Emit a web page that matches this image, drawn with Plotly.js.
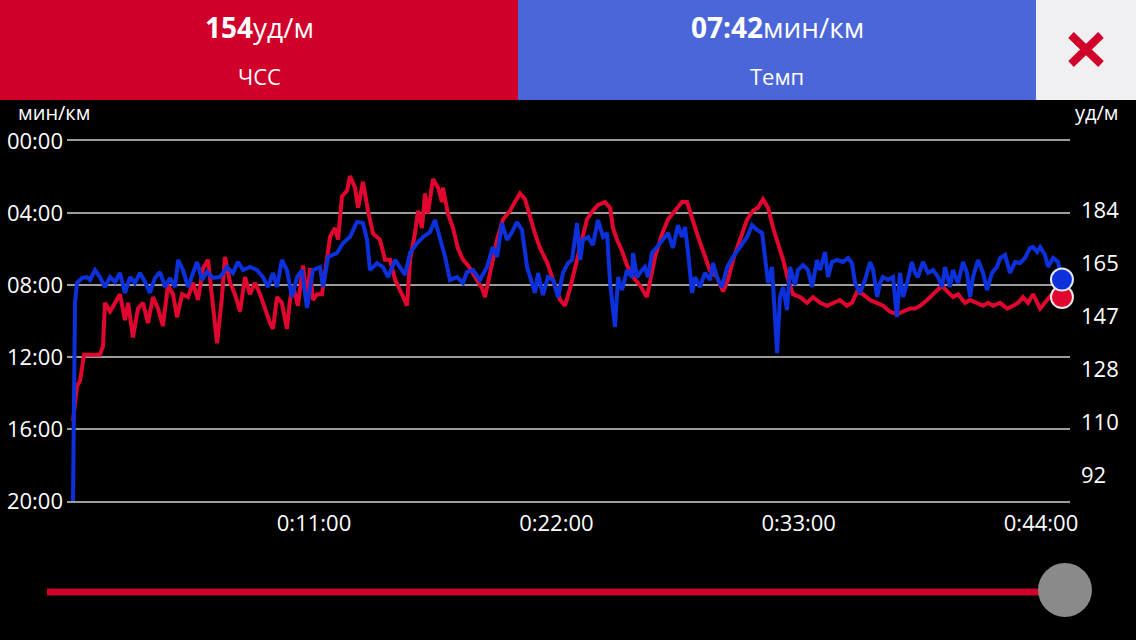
<!DOCTYPE html>
<html>
<head>
<meta charset="utf-8">
<script src="https://cdn.plot.ly/plotly-3.0.1.min.js"></script>
<style>html,body{margin:0;padding:0;background:#000;overflow:hidden}</style>
</head>
<body>
<div id="chart" style="width:1136px;height:640px"></div>
<script>
// ---- data (time in minutes) ----
const paceTime = [0.06,0.15,0.24,0.47,0.69,0.83,1.06,1.28,1.51,1.74,
1.97,2.19,2.42,2.65,2.87,3.10,3.33,3.55,3.78,4.01,
4.24,4.46,4.69,4.83,5.05,5.28,5.51,5.69,5.92,6.14,
6.41,6.73,7.05,7.32,7.55,7.78,8.09,8.41,8.68,8.91,
9.14,9.32,9.54,9.77,10.00,10.23,10.45,10.68,10.95,11.27,
11.41,11.64,12.04,12.32,12.63,12.95,13.22,13.41,13.54,13.86,
14.13,14.36,14.68,14.90,15.13,15.36,15.68,15.95,16.26,16.49,
16.72,16.95,17.17,17.49,17.76,17.94,18.22,18.53,18.85,19.12,
19.31,19.53,19.76,19.99,20.21,20.44,20.67,20.80,21.03,21.17,
21.39,21.62,21.85,22.08,22.30,22.53,22.71,22.94,23.08,23.21,
23.44,23.66,23.89,24.12,24.30,24.44,24.66,24.80,24.98,25.21,
25.43,25.48,25.66,25.89,26.02,26.16,26.34,26.57,26.84,27.07,
27.29,27.52,27.70,27.84,27.98,28.16,28.29,28.52,28.75,28.98,
29.11,29.29,29.52,29.75,30.02,30.34,30.66,30.88,31.11,31.34,
31.47,31.61,31.79,31.84,32.02,32.15,32.29,32.47,32.61,32.83,
32.97,33.20,33.42,33.61,33.83,33.97,34.20,34.33,34.51,34.74,
35.01,35.24,35.42,35.56,35.78,36.01,36.24,36.38,36.56,36.69,
36.83,37.06,37.28,37.46,37.60,37.74,37.92,38.14,38.28,38.41,
38.64,38.87,39.10,39.32,39.51,39.64,39.87,40.00,40.23,40.46,
40.64,40.78,40.91,41.14,41.37,41.55,41.77,42.00,42.14,42.37,
42.59,42.82,43.05,43.27,43.50,43.64,43.82,43.96,44.18,44.32,
44.55,44.77,44.95];
// pace, minutes per km
const pace = [20.00,9.00,7.89,7.61,7.56,7.72,7.17,7.56,8.11,7.56,
7.83,7.33,8.44,7.56,7.89,7.33,7.83,8.44,7.61,7.28,
8.11,7.61,8.11,6.61,7.17,8.11,7.33,6.72,7.72,7.28,
7.61,7.56,7.00,7.33,6.72,7.17,7.00,7.17,7.56,8.11,
7.33,8.11,6.61,7.17,8.67,7.56,7.17,9.28,7.17,7.00,
8.11,6.44,6.22,5.67,5.33,4.50,4.56,5.50,7.17,6.78,
7.00,7.56,6.61,7.00,7.44,6.22,5.67,5.33,5.06,4.39,
5.33,6.44,7.72,7.56,7.89,7.28,7.17,7.72,7.00,5.89,
6.44,4.56,5.50,5.06,4.50,4.94,7.00,7.56,8.44,7.33,
8.56,7.56,7.72,8.67,7.33,6.78,6.61,4.56,6.61,5.50,
5.33,5.78,4.39,5.33,5.11,7.89,10.33,7.56,8.28,7.17,
7.56,6.22,7.56,7.17,7.00,7.56,6.22,5.89,5.50,5.11,
5.94,4.67,5.33,4.78,6.22,8.44,7.56,8.11,7.33,7.72,
6.78,7.56,8.11,7.00,6.44,5.89,5.33,4.67,4.94,5.11,
6.44,7.89,7.00,7.89,11.78,8.67,8.11,9.39,7.00,8.00,
7.17,6.89,7.17,8.11,6.61,7.17,6.17,7.56,6.72,6.61,
6.72,6.50,6.78,7.89,8.44,7.72,6.72,7.17,8.67,7.89,
7.56,7.72,7.56,9.78,7.33,8.67,7.89,6.72,7.33,7.56,
6.72,7.33,7.17,7.56,8.11,7.00,8.11,7.17,7.89,6.72,
7.33,8.67,7.56,6.61,7.33,8.28,7.33,7.00,6.50,6.33,
7.33,6.72,6.78,6.50,5.94,5.89,6.17,5.89,6.33,7.00,
6.50,6.72,7.70];

const hrTime = [0.06,0.15,0.24,0.38,0.47,0.56,0.83,1.28,1.42,1.51,
1.74,1.97,2.19,2.42,2.56,2.78,3.01,3.24,3.46,3.69,
3.92,4.14,4.37,4.60,4.78,5.01,5.28,5.51,5.73,5.96,
6.19,6.37,6.60,6.82,6.96,7.19,7.41,7.64,7.87,8.09,
8.32,8.55,8.77,9.00,9.14,9.32,9.54,9.77,9.91,10.05,
10.27,10.50,10.68,10.82,10.95,11.14,11.36,11.50,11.73,11.95,
12.09,12.27,12.50,12.63,12.86,13.00,13.22,13.45,13.68,13.99,
14.22,14.45,14.68,14.99,15.22,15.36,15.58,15.72,15.90,16.04,
16.17,16.40,16.63,16.81,16.85,17.08,17.31,17.53,17.76,17.99,
18.31,18.63,18.76,18.99,19.31,19.58,19.90,20.12,20.35,20.58,
20.80,21.03,21.26,21.58,21.85,22.17,22.39,22.62,22.94,23.21,
23.39,23.66,23.89,24.21,24.44,24.57,24.75,24.98,25.21,25.48,
25.80,26.11,26.25,26.48,26.80,27.07,27.39,27.70,27.93,28.16,
28.43,28.75,28.98,29.29,29.57,29.79,30.02,30.34,30.66,30.93,
31.15,31.38,31.61,31.84,32.06,32.29,32.52,32.74,33.06,33.38,
33.65,33.97,34.29,34.56,34.87,35.19,35.42,35.65,35.92,36.24,
36.56,36.83,37.14,37.46,37.74,38.06,38.28,38.51,38.83,39.10,
39.32,39.51,39.74,40.00,40.23,40.55,40.78,41.10,41.37,41.60,
41.82,42.14,42.46,42.73,42.96,43.18,43.41,43.64,43.96,44.27,
44.50,44.73,44.95];
// heart rate, beats per minute
const heartRate = [111,118,123,125,130,134,134,134,137,152,
149,152,155,146,152,140,150,152,145,154,
150,144,158,155,147,155,154,159,153,164,
167,154,138,154,168,159,155,149,161,155,
159,155,150,145,143,154,152,143,153,158,
151,165,153,164,153,155,155,162,175,178,
174,189,191,196,192,185,194,184,176,174,
167,167,160,155,151,167,176,184,178,190,
183,195,192,187,192,183,178,171,167,165,
161,157,154,162,174,181,184,187,190,188,
182,176,171,166,160,153,151,157,167,175,
181,184,186,187,185,178,174,170,165,161,
158,154,159,168,176,181,184,187,187,181,
175,168,163,161,156,160,167,174,181,184,
185,188,185,178,173,167,160,155,154,152,
154,152,151,152,153,151,152,156,155,153,
152,151,149,148,149,150,150,151,153,155,
157,158,156,154,155,152,153,152,151,152,
151,152,150,151,152,154,152,155,150,153,
155,157,154];

// tick values
const timeTicks = [11, 22, 33, 44];
const paceTicks = [0, 4, 8, 12, 16, 20];
const hrTicks = [92, 110.4, 128.8, 147.2, 165.6, 184];

// ---- formatting ----
const pad2 = n => String(n).padStart(2, '0');
const fmtPace = m => { let mm = Math.floor(m), ss = Math.round((m - mm) * 60); if (ss === 60) { mm++; ss = 0; } return pad2(mm) + ':' + pad2(ss); };
const fmtTime = m => { const s = Math.round(m * 60); return Math.floor(s / 3600) + ':' + pad2(Math.floor(s % 3600 / 60)) + ':' + pad2(s % 60); };

// ---- layout geometry (pixels) ----
const L = 67, R = 1070, T = 141, B = 501, WIDTH = 1136, HEIGHT = 640;
const PW = R - L, PH = B - T;
const X = px => (px - L) / PW;
const Y = py => (B - py) / PH;

const RED = '#d0002b', BLUE_HDR = '#4a66d9', LINE_RED = '#e0062f', LINE_BLUE = '#0c31dc';
const GRID = '#9c9c9c';
const FONT = '"Open Sans", "Noto Sans", sans-serif';

const hrNow = heartRate[heartRate.length - 1];
const paceNow = pace[pace.length - 1];

const traces = [
  { x: hrTime, y: heartRate, yaxis: 'y', type: 'scatter', mode: 'lines',
    line: { color: LINE_RED, width: 4 }, hoverinfo: 'skip' },
  { x: [hrTime[hrTime.length - 1]], y: [hrNow], yaxis: 'y', type: 'scatter', mode: 'markers',
    cliponaxis: false, marker: { size: 22, color: LINE_RED, line: { color: '#e6e6ee', width: 2 } }, hoverinfo: 'skip' },
  { x: paceTime, y: pace, yaxis: 'y2', type: 'scatter', mode: 'lines',
    line: { color: LINE_BLUE, width: 4 }, hoverinfo: 'skip' },
  { x: [paceTime[paceTime.length - 1]], y: [paceNow], yaxis: 'y2', type: 'scatter', mode: 'markers',
    cliponaxis: false, marker: { size: 22, color: LINE_BLUE, line: { color: '#e6e6ee', width: 2 } }, hoverinfo: 'skip' }
];

const tickFont = { family: FONT, size: 22, color: '#ffffff' };

const layout = {
  width: WIDTH, height: HEIGHT,
  margin: { l: L, r: WIDTH - R, t: T, b: HEIGHT - B, pad: 0 },
  paper_bgcolor: '#000000', plot_bgcolor: '#000000',
  showlegend: false, hovermode: false,
  xaxis: { range: [-0.213, 45.315], tickvals: timeTicks, ticktext: timeTicks.map(fmtTime),
    showgrid: false, zeroline: false, showline: true, mirror: true, linecolor: GRID, linewidth: 2,
    ticks: '', tickfont: tickFont, ticklabelstandoff: 2, fixedrange: true },
  yaxis: { range: [83.2, 208.2], side: 'right', tickvals: hrTicks, ticktext: hrTicks.map(v => String(Math.floor(v))),
    showgrid: false, zeroline: false, showline: false, ticks: '', tickfont: tickFont,
    ticklabelstandoff: 10, fixedrange: true },
  yaxis2: { range: [20, 0], overlaying: 'y', side: 'left', tickvals: paceTicks, ticktext: paceTicks.map(fmtPace),
    showgrid: true, gridcolor: GRID, gridwidth: 2, zeroline: false, showline: false, ticks: '',
    tickfont: tickFont, ticklabelstandoff: 3, fixedrange: true },
  shapes: [
    // header tiles
    { type: 'rect', xref: 'paper', yref: 'paper', x0: X(0), x1: X(518), y0: Y(100), y1: Y(0), fillcolor: RED, line: { width: 0 } },
    { type: 'rect', xref: 'paper', yref: 'paper', x0: X(518), x1: X(1036), y0: Y(100), y1: Y(0), fillcolor: BLUE_HDR, line: { width: 0 } },
    { type: 'rect', xref: 'paper', yref: 'paper', x0: X(1036), x1: X(1136), y0: Y(100), y1: Y(0), fillcolor: '#f0f0f2', line: { width: 0 } },
    // close cross
    { type: 'line', xref: 'paper', yref: 'paper', x0: X(1071), y0: Y(35), x1: X(1101), y1: Y(64), line: { color: RED, width: 8 } },
    { type: 'line', xref: 'paper', yref: 'paper', x0: X(1071), y0: Y(64), x1: X(1101), y1: Y(35), line: { color: RED, width: 8 } },
    // slider
    { type: 'line', xref: 'paper', yref: 'paper', x0: X(47), y0: Y(592), x1: X(1045), y1: Y(592), line: { color: RED, width: 7 } },
    { type: 'circle', xref: 'paper', yref: 'paper', x0: X(1038), x1: X(1092), y0: Y(617), y1: Y(563), fillcolor: '#8a8a8a', line: { width: 0 } }
  ],
  annotations: [
    { xref: 'paper', yref: 'paper', x: X(259), y: Y(27), xanchor: 'center', yanchor: 'middle', showarrow: false,
      text: '<b>' + hrNow + '</b>уд/м', font: { family: FONT, size: 28, color: '#ffffff' } },
    { xref: 'paper', yref: 'paper', x: X(259), y: Y(76), xanchor: 'center', yanchor: 'middle', showarrow: false,
      text: 'ЧСС', font: { family: FONT, size: 22, color: '#ffffff' } },
    { xref: 'paper', yref: 'paper', x: X(777), y: Y(27), xanchor: 'center', yanchor: 'middle', showarrow: false,
      text: '<b>' + fmtPace(paceNow) + '</b>мин/км', font: { family: FONT, size: 28, color: '#ffffff' } },
    { xref: 'paper', yref: 'paper', x: X(777), y: Y(76), xanchor: 'center', yanchor: 'middle', showarrow: false,
      text: 'Темп', font: { family: FONT, size: 22, color: '#ffffff' } },
    { xref: 'paper', yref: 'paper', x: X(16), y: Y(112), xanchor: 'left', yanchor: 'middle', showarrow: false,
      text: 'мин/км', font: { family: FONT, size: 20, color: '#ffffff' } },
    { xref: 'paper', yref: 'paper', x: X(1121), y: Y(112), xanchor: 'right', yanchor: 'middle', showarrow: false,
      text: 'уд/м', font: { family: FONT, size: 20, color: '#ffffff' } }
  ]
};

Plotly.newPlot('chart', traces, layout, { displayModeBar: false, staticPlot: true });
</script>
</body>
</html>
